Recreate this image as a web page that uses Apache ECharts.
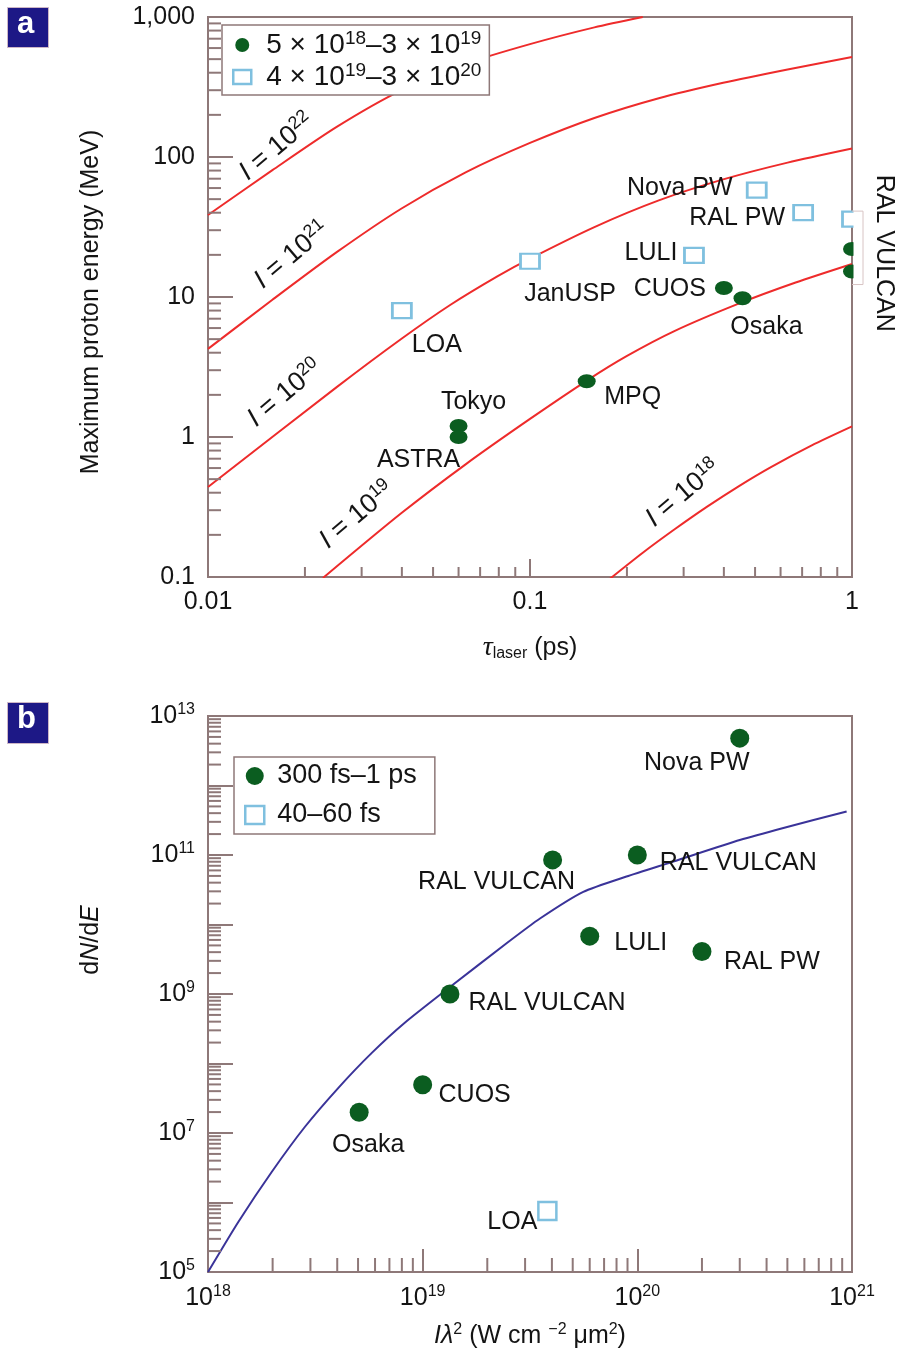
<!DOCTYPE html>
<html>
<head>
<meta charset="utf-8">
<script src="https://cdn.jsdelivr.net/npm/echarts@6/dist/echarts.min.js"></script>
<style>
  html, body { margin: 0; padding: 0; background: #fff; }
  #chart { width: 902px; height: 1367px; }
</style>
</head>
<body>
<div id="chart"></div>
<script>
// ---------- Panel a: maximum proton energy vs laser pulse duration ----------
// Model curves for constant intensity I (W cm^-2): [tau (ps), E (MeV)]
const curveI22 = [[0.01, 38.5], [0.01585, 80.5], [0.0251, 164], [0.0398, 299], [0.0631, 463], [0.1, 640], [0.1585, 843], [0.224, 1000]];
const curveI21 = [[0.01, 4.26], [0.01585, 9.55], [0.0251, 20.9], [0.0398, 42.7], [0.0631, 77.6], [0.1, 126], [0.1585, 190], [0.2512, 263], [0.3981, 339], [0.631, 422], [1, 518]];
const curveI20 = [[0.01, 0.44], [0.0251, 2.27], [0.0398, 5.01], [0.0565, 8.77], [0.0794, 14.1], [0.1, 18.8], [0.1585, 31.6], [0.2512, 49], [0.3981, 69.2], [0.631, 91.2], [1, 115]];
const curveI19 = [[0.02275, 0.0984], [0.0398, 0.285], [0.0631, 0.638], [0.1, 1.346], [0.1514, 2.56], [0.1995, 3.78], [0.2818, 5.73], [0.4467, 9.0], [0.6683, 12.68], [1, 17.2]];
const curveI18 = [[0.176, 0.096], [0.224, 0.149], [0.282, 0.22], [0.355, 0.318], [0.447, 0.448], [0.562, 0.612], [0.75, 0.871], [1, 1.19]];
const curveExponents = [22, 21, 20, 19, 18];

// Experiments, 5e18–3e19 W cm^-2 (filled dots)
const aMidNames = ['CUOS', 'Osaka', 'MPQ', 'Tokyo', 'ASTRA', 'RAL VULCAN', 'RAL VULCAN'];
const aMidTau   = [0.4, 0.457, 0.15, 0.06, 0.06, 1, 1];
const aMidE     = [11.6, 9.8, 2.5, 1.2, 1.0, 22, 15.2];
// Experiments, 4e19–3e20 W cm^-2 (open squares)
const aHighNames = ['LOA', 'JanUSP', 'LULI', 'Nova PW', 'RAL PW', 'RAL VULCAN'];
const aHighTau   = [0.04, 0.1, 0.323, 0.506, 0.705, 1];
const aHighE     = [8, 18, 19.8, 58, 40, 36];

const aYLabels = ['0.1', '1', '10', '100', '1,000'];
const aXLabels = ['0.01', '0.1', '1'];

// ---------- Panel b: proton number dN/dE vs I·lambda^2 ----------
const yieldCurve = [[1e18, 1e5], [1.384e18, 5.25e5], [1.98e18, 2.75e6], [2.83e18, 1.23e7], [4.05e18, 4.47e7], [5.78e18, 1.41e8],
  [8.28e18, 3.89e8], [1.34e19, 1.26e9], [2.46e19, 5.37e9], [3.52e19, 1.22e10], [5.6e19, 2.95e10], [8.9e19, 4.9e10],
  [1.47e20, 8.04e10], [3.0e20, 1.64e11], [4.79e20, 2.45e11], [9.44e20, 4.22e11]];

const bLongNames = ['Nova PW', 'RAL VULCAN', 'RAL VULCAN', 'LULI', 'RAL PW', 'RAL VULCAN', 'CUOS', 'Osaka'];
const bLongX     = [3.0e20, 4.03e19, 1.0e20, 6.0e19, 2.0e20, 1.34e19, 1.0e19, 5.06e18];
const bLongY     = [4.8e12, 8.5e10, 1.0e11, 6.8e9, 4.1e9, 1.0e9, 4.95e7, 1.99e7];
const bShortNames = ['LOA'];
const bShortX     = [3.81e19];
const bShortY     = [7.55e5];

// ---------- layout / style ----------
const FONT = '"Liberation Sans", Arial, sans-serif';
const FS = 25;
const LFS = 28;
const TXT = '#141414';
const AX = '#8e7878';
const RED = '#ee2b2b';
const NAVY = '#3a3399';
const GREEN = '#0b5d20';
const LBLUE = '#7fc0df';

// label offsets (px from the mark centre); null = no individual label
const aMidLabelOffset  = [[-54, 1], [24, 29], [46, 16], [15, -24], [-40, 23], null, null];
const aHighLabelOffset = [[35, 35], [40, 33], [-43, -2], [-77, -2], [-66, 5], null];
const bLongLabelOffset = [[-43, 25], [-56, 22], [101, 8], [51, 7], [70, 11], [97, 9], [52, 10], [9, 33]];
const bShortLabelOffset = [[-35, 11]];
// anchors of the intensity captions, in data coordinates
const curveLabelAnchors = [[0.01636, 118], [0.0182, 19.9], [0.01734, 2.05], [0.029, 0.277], [0.299, 0.396]];

const sup = { fontSize: 16, fontFamily: FONT, color: TXT, padding: [0, 0, 12, 0] };
const richBase = {
  sup: sup,
  it: { fontSize: FS, fontFamily: FONT, color: TXT, fontStyle: 'italic' },
  sub: { fontSize: 16, fontFamily: FONT, color: TXT, padding: [11, 0, 0, 0] },
  tau: { fontSize: 28, fontFamily: '"Liberation Serif", serif', fontStyle: 'italic', color: TXT }
};
const captionRich = {
  sup: { fontSize: 18, fontFamily: FONT, color: TXT, padding: [0, 0, 13, 0] },
  it: { fontSize: 27, fontFamily: FONT, color: TXT, fontStyle: 'italic' }
};
const legendSup = { fontSize: 19, fontFamily: FONT, color: TXT, padding: [0, 0, 13, 0] };

const ellipse = 'path://M0,1A1,1 0 1,0 2,1A1,1 0 1,0 0,1Z';
const expOf = v => Math.round(Math.log10(v));

function pointItems(names, xs, ys, offsets) {
  return names.map((n, i) => {
    const item = { name: n, value: [xs[i], ys[i]] };
    item.label = offsets[i]
      ? { show: true, position: 'inside', offset: offsets[i], formatter: '{b}' }
      : { show: false };
    return item;
  });
}

const pointLabel = { show: true, color: TXT, fontFamily: FONT, fontSize: FS, align: 'center', verticalAlign: 'middle' };

// minor tick helpers: values 2..9 x 10^k
function minorValues(kFrom, kTo) {
  const out = [];
  for (let k = kFrom; k <= kTo; k++) for (let m = 2; m <= 9; m++) out.push(m * Math.pow(10, k));
  return out;
}
function minorTickSeries(xi, yi, dir, values, fixed, len) {
  return {
    type: 'custom', xAxisIndex: xi, yAxisIndex: yi, silent: true, z: 3,
    data: values.map(v => dir === 'y' ? [fixed, v] : [v, fixed]),
    renderItem: (params, api) => {
      const p = api.coord([api.value(0), api.value(1)]);
      const end = dir === 'y' ? [p[0] + len, p[1]] : [p[0], p[1] - len];
      return { type: 'line', shape: { x1: p[0], y1: p[1], x2: end[0], y2: end[1] },
        style: { stroke: AX, lineWidth: 2 } };
    }
  };
}

const axisCommon = {
  type: 'log', logBase: 10,
  axisLine: { show: true, onZero: false, lineStyle: { color: AX, width: 2 } },
  splitLine: { show: false }, minorSplitLine: { show: false }
};
const nameStyle = pad => ({ fontFamily: FONT, fontSize: FS, color: TXT, rich: richBase, padding: pad });
const labelCommon = { fontFamily: FONT, fontSize: FS, color: TXT, rich: richBase };

const curves = [curveI22, curveI21, curveI20, curveI19, curveI18];

const option = {
  backgroundColor: '#fff',
  animation: false,
  grid: [
    { left: 208, top: 17, width: 644, height: 560, show: true, borderColor: AX, borderWidth: 2, backgroundColor: 'transparent', outerBoundsMode: 'none' },
    { left: 208, top: 716, width: 644, height: 556, show: true, borderColor: AX, borderWidth: 2, backgroundColor: 'transparent', outerBoundsMode: 'none' }
  ],
  xAxis: [
    Object.assign({}, axisCommon, {
      gridIndex: 0, min: 0.01, max: 1,
      axisTick: { inside: true, length: 18, lineStyle: { color: AX, width: 2 } },
      axisLabel: Object.assign({}, labelCommon, { margin: 13, formatter: v => aXLabels[expOf(v) + 2] }),
      name: '{tau|τ}{sub|laser} (ps)', nameLocation: 'middle', nameGap: 57, nameTextStyle: nameStyle(0)
    }),
    Object.assign({}, axisCommon, {
      gridIndex: 1, min: 1e18, max: 1e21,
      axisTick: { inside: true, length: 23, lineStyle: { color: AX, width: 2 } },
      axisLabel: Object.assign({}, labelCommon, { margin: 12, formatter: v => '10{sup|' + expOf(v) + '}' }),
      name: '{it|Iλ}{sup|2} (W cm {sup|−2} μm{sup|2})', nameLocation: 'middle', nameGap: 50, nameTextStyle: nameStyle(0)
    })
  ],
  yAxis: [
    Object.assign({}, axisCommon, {
      gridIndex: 0, min: 0.1, max: 1000,
      axisTick: { inside: true, length: 25, lineStyle: { color: AX, width: 2 } },
      axisLabel: Object.assign({}, labelCommon, { margin: 13, formatter: v => aYLabels[expOf(v) + 1] }),
      name: 'Maximum proton energy (MeV)', nameLocation: 'middle', nameRotate: 90, nameGap: 104,
      nameTextStyle: nameStyle([0, 10, 0, 0])
    }),
    Object.assign({}, axisCommon, {
      gridIndex: 1, min: 1e5, max: 1e13, splitNumber: 8,
      axisTick: { inside: true, length: 25, lineStyle: { color: AX, width: 2 } },
      axisLabel: Object.assign({}, labelCommon, { margin: 13, formatter: v => (expOf(v) % 2 ? '10{sup|' + expOf(v) + '}' : '') }),
      name: 'd{it|N}/d{it|E}', nameLocation: 'middle', nameRotate: 90, nameGap: 104,
      nameTextStyle: nameStyle([0, 0, 0, 108])
    })
  ],
  legend: [
    {
      left: 222, top: 25, orient: 'vertical', itemWidth: 18, itemHeight: 14, itemGap: 2,
      padding: [4, 8, 4, 10], borderColor: AX, borderWidth: 1.5, backgroundColor: '#fff',
      selectedMode: false,
      textStyle: { fontFamily: FONT, fontSize: LFS, color: TXT, lineHeight: 28, padding: [0, 0, 0, 10], rich: { sup: legendSup } },
      data: [
        { name: 'mid intensity', icon: ellipse, itemStyle: { color: GREEN, opacity: 1 } },
        { name: 'high intensity', icon: 'rect', itemStyle: { color: '#fff', borderColor: LBLUE, borderWidth: 2.5, opacity: 1 } }
      ],
      formatter: n => n === 'mid intensity'
        ? '5 × 10{sup|18}–3 × 10{sup|19}'
        : '4 × 10{sup|19}–3 × 10{sup|20}'
    },
    {
      left: 234, top: 757, orient: 'vertical', itemWidth: 19, itemHeight: 18, itemGap: 11,
      padding: [5, 18, 5, 10], borderColor: AX, borderWidth: 1.5, backgroundColor: '#fff',
      selectedMode: false,
      textStyle: { fontFamily: FONT, fontSize: 27, color: TXT, lineHeight: 28, padding: [0, 0, 0, 8] },
      data: [
        { name: '300 fs–1 ps', icon: 'circle', itemStyle: { color: GREEN, opacity: 1 } },
        { name: '40–60 fs', icon: 'rect', itemStyle: { color: '#fff', borderColor: LBLUE, borderWidth: 2.5, opacity: 1 } }
      ]
    }
  ],
  graphic: [
    { type: 'rect', left: 7, top: 7, shape: { width: 41, height: 40 }, style: { fill: '#1d1886', stroke: '#cdb6c6', lineWidth: 1 } },
    { type: 'text', left: 17, top: 9, style: { text: 'a', fill: '#fff', font: 'bold 31px "Liberation Sans", Arial, sans-serif' } },
    { type: 'rect', left: 7, top: 702, shape: { width: 41, height: 41 }, style: { fill: '#1d1886', stroke: '#cdb6c6', lineWidth: 1 } },
    { type: 'text', left: 17, top: 704, style: { text: 'b', fill: '#fff', font: 'bold 31px "Liberation Sans", Arial, sans-serif' } }
  ],
  series: [
    // constant-intensity curves
    ...curves.map(c => ({
      type: 'line', xAxisIndex: 0, yAxisIndex: 0, data: c, smooth: 0.25, showSymbol: false, silent: true,
      lineStyle: { color: RED, width: 2 }, z: 2
    })),
    // curve captions
    {
      type: 'custom', xAxisIndex: 0, yAxisIndex: 0, silent: true, z: 4,
      data: curveLabelAnchors.map((a, i) => [a[0], a[1], curveExponents[i]]),
      renderItem: (params, api) => {
        const p = api.coord([api.value(0), api.value(1)]);
        return {
          type: 'text', x: p[0], y: p[1], rotation: 40 * Math.PI / 180,
          style: {
            text: '{it|I} = 10{sup|' + api.value(2) + '}',
            fontFamily: FONT, fontSize: 27, fill: TXT,
            align: 'center', verticalAlign: 'middle', rich: captionRich
          }
        };
      }
    },
    {
      name: 'mid intensity', type: 'scatter', xAxisIndex: 0, yAxisIndex: 0,
      symbol: ellipse, symbolSize: [18, 14], itemStyle: { color: GREEN, opacity: 1 }, z: 5,
      label: pointLabel,
      data: pointItems(aMidNames, aMidTau, aMidE, aMidLabelOffset)
    },
    {
      name: 'high intensity', type: 'scatter', xAxisIndex: 0, yAxisIndex: 0,
      symbol: 'rect', symbolSize: [19, 15], itemStyle: { color: '#fff', borderColor: LBLUE, borderWidth: 2.5, opacity: 1 }, z: 5,
      label: pointLabel,
      data: pointItems(aHighNames, aHighTau, aHighE, aHighLabelOffset)
    },
    // shared caption for the RAL VULCAN points at 1 ps
    {
      type: 'custom', xAxisIndex: 0, yAxisIndex: 0, silent: true, z: 6,
      data: (() => {
        const ev = [];
        aMidNames.forEach((n, i) => { if (n === 'RAL VULCAN') ev.push(aMidE[i]); });
        aHighNames.forEach((n, i) => { if (n === 'RAL VULCAN') ev.push(aHighE[i]); });
        return [[1, Math.max(...ev), Math.min(...ev)]];
      })(),
      renderItem: (params, api) => {
        const top = api.coord([api.value(0), api.value(1)]);
        const bot = api.coord([api.value(0), api.value(2)]);
        const x = top[0];
        return {
          type: 'group', children: [
            { type: 'rect', shape: { x: x + 1.5, y: top[1] - 12, width: 14, height: bot[1] - top[1] + 24 }, style: { fill: '#fff' } },
            { type: 'polyline', shape: { points: [[x, top[1] - 8], [x + 11, top[1] - 8], [x + 11, bot[1] + 13], [x, bot[1] + 13]] },
              style: { stroke: '#d8c4c4', lineWidth: 1, fill: null } },
            { type: 'text', x: x + 32, y: (top[1] + bot[1]) / 2 + 8, rotation: -Math.PI / 2,
              style: { text: 'RAL VULCAN', fontFamily: FONT, fontSize: FS, fill: TXT, align: 'center', verticalAlign: 'middle' } }
          ]
        };
      }
    },
    minorTickSeries(0, 0, 'y', minorValues(-1, 2), 0.01, 13),
    minorTickSeries(0, 0, 'x', minorValues(-2, -1), 0.1, 10),

    // panel b
    {
      type: 'line', xAxisIndex: 1, yAxisIndex: 1, data: yieldCurve, smooth: 0.2, showSymbol: false, silent: true,
      lineStyle: { color: NAVY, width: 2 }, z: 2
    },
    {
      name: '300 fs–1 ps', type: 'scatter', xAxisIndex: 1, yAxisIndex: 1,
      symbol: 'circle', symbolSize: 19, itemStyle: { color: GREEN, opacity: 1 }, z: 5,
      label: pointLabel,
      data: pointItems(bLongNames, bLongX, bLongY, bLongLabelOffset)
    },
    {
      name: '40–60 fs', type: 'scatter', xAxisIndex: 1, yAxisIndex: 1,
      symbol: 'rect', symbolSize: 18, itemStyle: { color: '#fff', borderColor: LBLUE, borderWidth: 2.5, opacity: 1 }, z: 5,
      label: pointLabel,
      data: pointItems(bShortNames, bShortX, bShortY, bShortLabelOffset)
    },
    minorTickSeries(1, 1, 'y', minorValues(5, 12), 1e18, 13),
    minorTickSeries(1, 1, 'x', minorValues(18, 20), 1e5, 14)
  ]
};

const chart = echarts.init(document.getElementById('chart'));
chart.setOption(option);
</script>
</body>
</html>
